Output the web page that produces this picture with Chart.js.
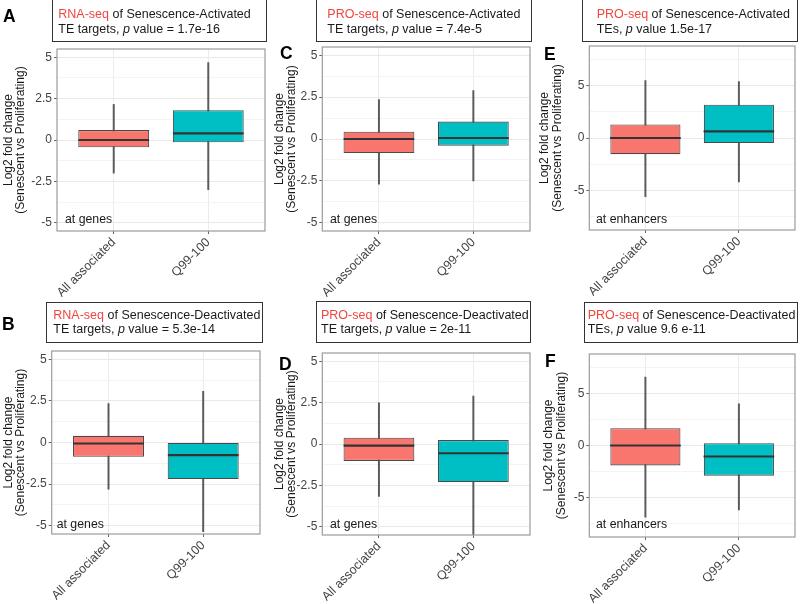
<!DOCTYPE html>
<html>
<head>
<meta charset="utf-8">
<script src="https://cdn.jsdelivr.net/npm/chart.js@4.4.0/dist/chart.umd.min.js"></script>
<style>
  body { margin: 0; background: #fff; }
  #page { position: relative; width: 800px; height: 604px; overflow: hidden; font-family: "Liberation Sans", Arial, Helvetica, sans-serif; }
  .cv { position: absolute; }
  .tbox { position: absolute; border: 1.5px solid #333; box-sizing: border-box; }
  .ttxt { position: absolute; font-size: 12.5px; line-height: 14.7px; color: #1a1a1a; white-space: nowrap; }
  .ttxt .hl { color: #f0463f; }
  .letter { position: absolute; font-weight: bold; font-size: 17.5px; line-height: 17px; color: #000; }
  .note { position: absolute; font-size: 12.3px; line-height: 14px; color: #1a1a1a; white-space: nowrap; }
</style>
</head>
<body>
<div id="page"></div>
<script>
// categories on the x axis
const categories = ['All associated', 'Q99-100'];
const boxColors = ['#F8766D', '#00BFC4'];

// box stats: [lower whisker, Q1, median, Q3, upper whisker]
const rnaActAll = [-2.0, -0.44, 0, 0.6, 2.15];
const rnaActQ99 = [-3.0, -0.14, 0.4, 1.8, 4.68];
const rnaDeactAll = [-2.8, -0.86, -0.06, 0.4, 2.34];
const rnaDeactQ99 = [-5.36, -2.2, -0.76, 0, 3.08];
const proActAll = [-2.7, -0.84, 0, 0.44, 2.36];
const proActQ99 = [-2.5, -0.4, 0.06, 1.04, 2.9];
const proDeactAll = [-3.17, -1.02, -0.1, 0.38, 2.49];
const proDeactQ99 = [-5.6, -2.3, -0.56, 0.24, 2.9];
const enhActAll = [-5.6, -1.55, 0, 1.3, 5.5];
const enhActQ99 = [-4.2, -0.48, 0.64, 3.18, 5.4];
const enhDeactAll = [-6.9, -1.92, 0, 1.66, 6.57];
const enhDeactQ99 = [-6.2, -2.9, -1.06, 0.22, 4.0];

// y ticks
const genesMajor = [-5, -2.5, 0, 2.5, 5];
const genesMinor = [-3.75, -1.25, 1.25, 3.75];
const enhMajor = [-5, 0, 5];
const enhMinor = [-7.5, -2.5, 2.5, 7.5];

const yTitle = ['Log2 fold change', '(Senescent vs Proliferating)'];
const FONT = '"Liberation Sans", Arial, Helvetica, sans-serif';

const panels = [
  { letter: 'A', lx: 3, ly: 7.8, hl: 'RNA-seq', t1: ' of Senescence-Activated', t2: 'TE targets, <i>p</i> value = 1.7e-16',
    box: [52, -1, 267, 42], tx0: 58.3, ty0: 7, note: 'at genes', nx: 65, ny: 212,
    stats: [rnaActAll, rnaActQ99], yMax: 5.5, majors: genesMajor, minors: genesMinor,
    g: { col: 0, L: 57, R: 265, T: 48.5, B: 231, tx: 8.5 } },
  { letter: 'B', lx: 2, ly: 315.8, hl: 'RNA-seq', t1: ' of Senescence-Deactivated', t2: 'TE targets, <i>p</i> value = 5.3e-14',
    box: [46, 301.7, 263.3, 343.3], tx0: 53.3, ty0: 307.7, note: 'at genes', nx: 56.7, ny: 517,
    stats: [rnaDeactAll, rnaDeactQ99], yMax: 5.5, majors: genesMajor, minors: genesMinor,
    g: { col: 0, L: 51.7, R: 260, T: 350.7, B: 533.7, tx: 8.5 } },
  { letter: 'C', lx: 280, ly: 44.8, hl: 'PRO-seq', t1: ' of Senescence-Activated', t2: 'TE targets, <i>p</i> value = 7.4e-5',
    box: [315.7, -1, 531.7, 42], tx0: 327.3, ty0: 7, note: 'at genes', nx: 330, ny: 212,
    stats: [proActAll, proActQ99], yMax: 5.5, majors: genesMajor, minors: genesMinor,
    g: { col: 268, L: 322.3, R: 530, T: 46.5, B: 230.5, tx: 279.5 } },
  { letter: 'D', lx: 279, ly: 355.8, hl: 'PRO-seq', t1: ' of Senescence-Deactivated', t2: 'TE targets, <i>p</i> value = 2e-11',
    box: [315.7, 301, 530.7, 343.3], tx0: 321, ty0: 307.7, note: 'at genes', nx: 330, ny: 517,
    stats: [proDeactAll, proDeactQ99], yMax: 5.5, majors: genesMajor, minors: genesMinor,
    g: { col: 268, L: 322.3, R: 530.7, T: 353, B: 535.5, tx: 279.5 } },
  { letter: 'E', lx: 544, ly: 45.8, hl: 'PRO-seq', t1: ' of Senescence-Activated', t2: 'TEs, <i>p</i> value 1.5e-17',
    box: [582.3, -1, 797.7, 42], tx0: 596.7, ty0: 7, note: 'at enhancers', nx: 596, ny: 212,
    stats: [enhActAll, enhActQ99], yMax: 8.8, majors: enhMajor, minors: enhMinor,
    g: { col: 535, L: 589.3, R: 795.7, T: 46, B: 230.5, tx: 545 } },
  { letter: 'F', lx: 545, ly: 352.8, hl: 'PRO-seq', t1: ' of Senescence-Deactivated', t2: 'TEs, <i>p</i> value 9.6 e-11',
    box: [584.3, 301.7, 797.7, 343.3], tx0: 587.7, ty0: 307.7, note: 'at enhancers', nx: 596, ny: 517,
    stats: [enhDeactAll, enhDeactQ99], yMax: 8.8, majors: enhMajor, minors: enhMinor,
    g: { col: 535, L: 589.3, R: 795.7, T: 353.5, B: 536.7, tx: 549 } }
];

const panelBorder = {
  id: 'panelBorder',
  afterDatasetsDraw(chart) {
    const { ctx, chartArea: a } = chart;
    ctx.save();
    ctx.strokeStyle = '#9c9c9c';
    ctx.lineWidth = 1.2;
    ctx.strokeRect(a.left, a.top, a.right - a.left, a.bottom - a.top);
    ctx.restore();
  }
};

const page = document.getElementById('page');

function addDiv(cls, x, y, html, extra) {
  const d = document.createElement('div');
  d.className = cls;
  d.style.left = x + 'px';
  d.style.top = y + 'px';
  if (html != null) d.innerHTML = html;
  if (extra) Object.assign(d.style, extra);
  page.appendChild(d);
  return d;
}

// no extra scale padding, so the plot area lands exactly where the layout says
function noPad(s) {
  s.paddingLeft = 0; s.paddingRight = 0; s.paddingTop = 0; s.paddingBottom = 0;
}

function makeChart(p) {
  const g = p.g;
  const cx = g.col, cy = g.T - 8;
  const cw = g.R + 4 - cx, ch = g.B + 72 - cy;
  const wrap = addDiv('cv', cx, cy, null, { width: cw + 'px', height: ch + 'px' });
  const cv = document.createElement('canvas');
  cv.width = cw; cv.height = ch;
  wrap.appendChild(cv);

  const lh = 12 * 1.05;
  const padLeft = g.tx - lh / 2 - cx;
  const yWidth = g.L - cx - padLeft;
  const xHeight = cy + ch - g.B;
  const isMajor = v => p.majors.includes(v);

  new Chart(cv, {
    type: 'bar',
    data: {
      datasets: [
        { // median
          type: 'line', showLine: false, order: 0,
          data: p.stats.map((s, i) => ({ x: i + 1, y: s[2] })),
          pointStyle: 'line', pointRadius: 35.3, pointHoverRadius: 35.3,
          pointBorderColor: '#333', pointBorderWidth: 2.2, borderColor: '#333'
        },
        { // box
          order: 1, grouped: false,
          data: p.stats.map((s, i) => ({ x: i + 1, y: [s[1], s[3]] })),
          backgroundColor: boxColors, borderColor: '#4a4a4a', borderWidth: 1.1, borderSkipped: false,
          barPercentage: 0.75, categoryPercentage: 1
        },
        { // whiskers
          order: 2, grouped: false,
          data: p.stats.map((s, i) => ({ x: i + 1, y: [s[0], s[4]] })),
          backgroundColor: '#5a5a5a', barThickness: 1.3
        }
      ]
    },
    options: {
      responsive: false, animation: false, events: [],
      layout: { autoPadding: false, padding: { left: padLeft, top: g.T - cy, right: cx + cw - g.R, bottom: 0 } },
      plugins: { legend: { display: false }, tooltip: { enabled: false } },
      scales: {
        x: {
          type: 'linear', min: 0.4, max: 2.6, offset: false,
          afterBuildTicks: s => { s.ticks = categories.map((c, i) => ({ value: i + 1 })); },
          afterFit: s => { s.height = xHeight; noPad(s); },
          ticks: {
            callback: v => categories[v - 1], minRotation: 45, maxRotation: 45, autoSkip: false,
            color: '#444', font: { family: FONT, size: 12.5 }, padding: 1
          },
          grid: { offset: false, color: '#ebebeb', lineWidth: 1, tickColor: '#666', tickLength: 3 },
          border: { display: false }
        },
        y: {
          min: -p.yMax, max: p.yMax,
          afterBuildTicks: s => { s.ticks = p.majors.concat(p.minors).sort((a, b) => a - b).map(v => ({ value: v })); },
          afterFit: s => { s.width = yWidth; noPad(s); },
          ticks: {
            callback: v => isMajor(v) ? String(v) : '', autoSkip: false,
            color: '#444', font: { family: FONT, size: 12 }, padding: 2
          },
          grid: {
            color: c => (c.tick && isMajor(c.tick.value)) ? '#e9e9e9' : '#f4f4f4',
            tickColor: c => (c.tick && isMajor(c.tick.value)) ? '#666' : 'rgba(0,0,0,0)',
            tickLength: 3
          },
          border: { display: false },
          title: {
            display: true, text: yTitle, color: '#1a1a1a', padding: 0,
            font: { family: FONT, size: 12, lineHeight: 1.05 }
          }
        }
      }
    },
    plugins: [panelBorder]
  });
}

panels.forEach(p => {
  makeChart(p);
  const b = p.box;
  addDiv('tbox', b[0], b[1], null, { width: (b[2] - b[0]) + 'px', height: (b[3] - b[1]) + 'px' });
  addDiv('ttxt', p.tx0, p.ty0, '<span class="hl">' + p.hl + '</span>' + p.t1 + '<br>' + p.t2);
  addDiv('letter', p.lx, p.ly, p.letter);
  addDiv('note', p.nx, p.ny, p.note);
});
</script>
</body>
</html>
